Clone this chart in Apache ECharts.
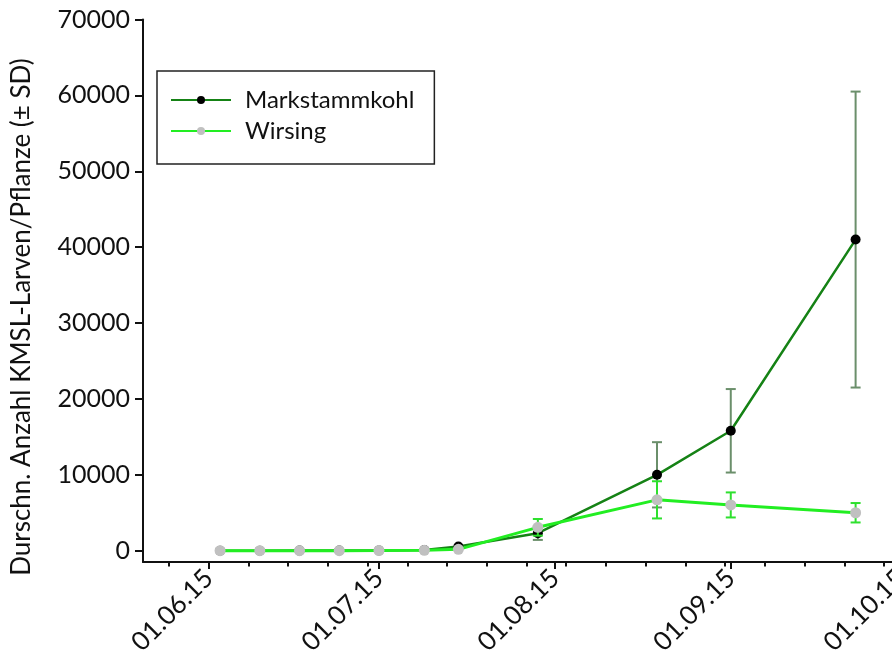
<!DOCTYPE html>
<html>
<head>
<meta charset="utf-8">
<script src="https://cdn.jsdelivr.net/npm/echarts@6/dist/echarts.min.js"></script>
<style>
  html, body { margin: 0; padding: 0; background: #ffffff; }
  #chart { width: 892px; height: 662px; }
</style>
</head>
<body>
<div id="chart"></div>
<script>
// Sampling dates (2015) and mean larvae counts per plant with standard deviations
const sampleDates = ['2015-06-03', '2015-06-10', '2015-06-17', '2015-06-24', '2015-07-01',
                     '2015-07-09', '2015-07-15', '2015-07-29', '2015-08-19', '2015-09-01', '2015-09-23'];
const markstammkohlMean = [0, 0, 10, 20, 40, 100, 550, 2300, 10000, 15800, 41000];
const markstammkohlSD   = [0, 0, 0, 0, 0, 0, 0, 880, 4300, 5500, 19500];
const wirsingMean       = [0, 0, 0, 0, 20, 50, 180, 3080, 6700, 6030, 5000];
const wirsingSD         = [0, 0, 0, 0, 0, 0, 0, 1100, 2450, 1650, 1280];

// Axis tick values
const monthTicks = ['2015-06-01', '2015-07-01', '2015-08-01', '2015-09-01', '2015-10-01'];
const weekTicks = ['2015-05-25', '2015-06-01', '2015-06-08', '2015-06-15', '2015-06-22', '2015-06-29',
                   '2015-07-06', '2015-07-13', '2015-07-20', '2015-07-27', '2015-08-03', '2015-08-10',
                   '2015-08-17', '2015-08-24', '2015-08-31', '2015-09-07', '2015-09-14', '2015-09-21',
                   '2015-09-28', '2015-10-05'];
const yTicks = [0, 10000, 20000, 30000, 40000, 50000, 60000, 70000];

const seriesNames = ['Markstammkohl', 'Wirsing'];
const yTitle = 'Durschn. Anzahl KMSL-Larven/Pflanze (± SD)';

const FONT = 'Lato';
const toTime = s => new Date(s + 'T00:00:00').getTime();
const xMin = new Date('2015-05-20T10:00:00').getTime();
const xMax = toTime('2015-10-05');

// The plot area runs past the right edge of the canvas
const gridRect = { left: 143, top: 19.5, width: 780.7, height: 542.5, outerBoundsMode: 'none', containLabel: false };

function points(means) {
  return sampleDates.map((d, i) => [toTime(d), means[i]]);
}
function bars(means, sds) {
  const out = [];
  sampleDates.forEach((d, i) => {
    if (sds[i] > 0) out.push([toTime(d), means[i] - sds[i], means[i] + sds[i]]);
  });
  return out;
}
function errorBar(color) {
  return function (params, api) {
    const x = api.value(0);
    const lo = api.coord([x, api.value(1)]);
    const hi = api.coord([x, api.value(2)]);
    const half = 5;
    const style = { stroke: color, lineWidth: 2 };
    return {
      type: 'group',
      children: [
        { type: 'line', shape: { x1: lo[0], y1: lo[1], x2: hi[0], y2: hi[1] }, style: style },
        { type: 'line', shape: { x1: lo[0] - half, y1: lo[1], x2: lo[0] + half, y2: lo[1] }, style: style },
        { type: 'line', shape: { x1: hi[0] - half, y1: hi[1], x2: hi[0] + half, y2: hi[1] }, style: style }
      ]
    };
  };
}

const chart = echarts.init(document.getElementById('chart'), null, { renderer: 'canvas' });

chart.setOption({
  animation: false,
  backgroundColor: '#ffffff',
  textStyle: { fontFamily: FONT },
  grid: [
    Object.assign({}, gridRect),
    Object.assign({}, gridRect)
  ],
  legend: {
    data: seriesNames,
    orient: 'vertical',
    left: 157,
    top: 71,
    padding: [17, 20, 21, 13],
    itemWidth: 60,
    itemHeight: 10,
    itemGap: 7,
    borderColor: '#222222',
    borderWidth: 1.5,
    textStyle: { fontFamily: FONT, fontSize: 24, color: '#111111', padding: [0, 0, 0, 9] }
  },
  xAxis: [
    {
      type: 'time',
      gridIndex: 0,
      min: xMin,
      max: xMax,
      axisLine: { show: true, onZero: false, lineStyle: { color: '#111111', width: 2 } },
      axisTick: { show: true, length: 7, customValues: monthTicks.map(toTime), lineStyle: { color: '#111111', width: 2 } },
      axisLabel: {
        customValues: monthTicks.map(toTime),
        formatter: '{dd}.{MM}.{yy}',
        rotate: 45,
        margin: 12,
        fontFamily: FONT,
        fontSize: 26,
        color: '#111111'
      },
      splitLine: { show: false }
    },
    {
      type: 'time',
      gridIndex: 1,
      min: xMin,
      max: xMax,
      axisLine: { show: false, onZero: false },
      axisTick: { show: true, length: 4.5, customValues: weekTicks.map(toTime), lineStyle: { color: '#111111', width: 2 } },
      axisLabel: { show: false },
      splitLine: { show: false }
    }
  ],
  yAxis: [
    {
      type: 'value',
      gridIndex: 0,
      min: -1490,
      max: 70000,
      axisLine: { show: true, onZero: false, lineStyle: { color: '#111111', width: 2 } },
      axisTick: { show: true, length: 8, customValues: yTicks, lineStyle: { color: '#111111', width: 2 } },
      axisLabel: {
        customValues: yTicks,
        formatter: v => String(v),
        margin: 13,
        fontFamily: FONT,
        fontSize: 25,
        color: '#111111'
      },
      splitLine: { show: false }
    },
    {
      type: 'value',
      gridIndex: 1,
      min: -1490,
      max: 70000,
      show: false
    }
  ],
  graphic: [
    {
      type: 'text',
      x: 22,
      y: 317,
      rotation: Math.PI / 2,
      style: {
        text: yTitle,
        fontFamily: FONT,
        fontSize: 26,
        fill: '#111111',
        align: 'center',
        verticalAlign: 'middle'
      }
    }
  ],
  series: [
    {
      type: 'custom',
      name: 'mkErr',
      xAxisIndex: 0, yAxisIndex: 0,
      renderItem: errorBar('#6b8f6b'),
      data: bars(markstammkohlMean, markstammkohlSD),
      z: 1,
      silent: true
    },
    {
      type: 'line',
      name: seriesNames[0],
      xAxisIndex: 0, yAxisIndex: 0,
      data: points(markstammkohlMean),
      symbol: 'circle',
      symbolSize: 10,
      lineStyle: { color: '#158215', width: 2.5 },
      itemStyle: { color: '#000000' },
      z: 2
    },
    {
      type: 'custom',
      name: 'wiErr',
      xAxisIndex: 0, yAxisIndex: 0,
      renderItem: errorBar('#2ee02e'),
      data: bars(wirsingMean, wirsingSD),
      z: 3,
      silent: true
    },
    {
      type: 'line',
      name: seriesNames[1],
      xAxisIndex: 0, yAxisIndex: 0,
      data: points(wirsingMean),
      symbol: 'circle',
      symbolSize: 11,
      lineStyle: { color: '#22ee22', width: 3 },
      itemStyle: { color: '#c0c0c0' },
      z: 4
    }
  ]
});
</script>
</body>
</html>
